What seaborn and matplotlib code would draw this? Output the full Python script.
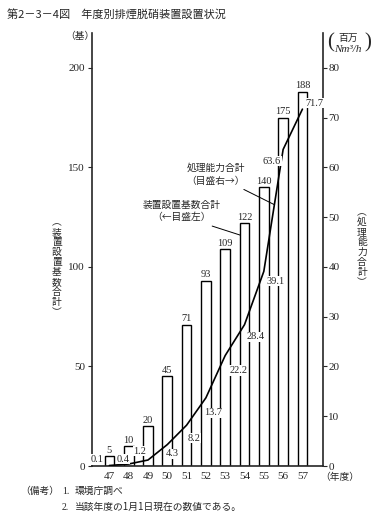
import numpy as np
import pandas as pd
import seaborn as sns
import matplotlib.pyplot as plt

# 年度別データ（昭和47～57年度）
years = ['47', '48', '49', '50', '51', '52', '53', '54', '55', '56', '57']
units_total = [5, 10, 20, 45, 71, 93, 109, 122, 140, 175, 188]          # 装置設置基数合計（基）
capacity_total = [0.1, 0.4, 1.2, 4.3, 8.2, 13.7, 22.2, 28.4, 39.1, 63.6, 71.7]  # 処理能力合計（百万Nm3/h）

df = pd.DataFrame({'year': years, 'units': units_total, 'capacity': capacity_total})
df['pos'] = np.arange(len(df))

# 折れ線ラベルの位置ずらし（ピクセル）
label_offsets = [(-12, 6), (-6, 5), (-8, 9), (5, -9), (7, -13), (7, -15),
                 (13, -15), (11, -12), (12, -10), (-11, -12), (12, 6)]

sns.set_style('white')
plt.rcParams['font.family'] = ['Liberation Serif', 'Noto Sans CJK JP', 'DejaVu Sans']
jp = ['Noto Sans CJK JP', 'DejaVu Sans']
W, H = 375, 524

fig = plt.figure(figsize=(W / 100, H / 100), dpi=100)
ax = fig.add_axes([92 / W, 1 - 466 / H, (322.7 - 92) / W, (466 - 33) / H])

sns.barplot(data=df, x='year', y='units', ax=ax, width=0.5, color='white',
            saturation=1, edgecolor='black', linewidth=1.0)
ax.bar_label(ax.containers[0], padding=1, fontsize=7.5)

ax2 = ax.twinx()
sns.lineplot(data=df, x='pos', y='capacity', ax=ax2, color='black', lw=1.2)
for i, (v, off) in enumerate(zip(capacity_total, label_offsets)):
    ax2.annotate(f'{v}', (i, v), xytext=off, textcoords='offset pixels',
                 ha='center', va='center', fontsize=7.5,
                 bbox=dict(boxstyle='square,pad=0.05', fc='white', ec='none'))

ax.set_xlim(-0.9, 11.05)
ax.set_ylim(0, 217.5)
ax2.set_ylim(0, 87)
ax.set_yticks([0, 50, 100, 150, 200])
ax2.set_yticks(range(0, 81, 10))
ax.set_xlabel('')
ax.set_ylabel('')
ax2.set_ylabel('')

for s in ['top', 'right']:
    ax.spines[s].set_visible(False)
for s in ['top', 'left', 'bottom']:
    ax2.spines[s].set_visible(False)
for s in ['left', 'bottom']:
    ax.spines[s].set_linewidth(1.2)
ax2.spines['right'].set_linewidth(1.2)
ax.tick_params(axis='x', length=0, pad=4, labelsize=8)
ax.tick_params(axis='y', length=3, width=0.8, pad=2, labelsize=8)
ax2.tick_params(axis='y', length=3, width=0.8, pad=1, labelsize=8)

# 注記
ax2.annotate('処理能力合計\n（目盛右→）', xy=(8.55, 52.5), xytext=(5.5, 58.6),
             ha='center', va='center', fontsize=7, family=jp, linespacing=1.3,
             arrowprops=dict(arrowstyle='-', lw=0.7, color='black', relpos=(0.85, 0.0),
                             shrinkA=1, shrinkB=0))
ax.annotate('装置設置基数合計\n（←目盛左）', xy=(6.77, 116), xytext=(3.72, 128),
            ha='center', va='center', fontsize=7, family=jp, linespacing=1.3,
            arrowprops=dict(arrowstyle='-', lw=0.7, color='black', relpos=(0.75, 0.0),
                            shrinkA=1, shrinkB=0))

# タイトル・軸ラベル
fig.text(7 / W, 1 - 15 / H, '第2－3－4図　年度別排煙脱硝装置設置状況', fontsize=8,
         family=jp, ha='left', va='center')
fig.text(80 / W, 1 - 36 / H, '（基）', fontsize=7, family=jp, ha='center', va='center')
fig.text(348 / W, 1 - 38 / H, '百万', fontsize=7, family=jp, ha='center', va='center')
fig.text(348 / W, 1 - 49 / H, 'Nm³/h', fontsize=8, style='italic', ha='center', va='center')
fig.text(331 / W, 1 - 43 / H, '(', fontsize=15, ha='center', va='center')
fig.text(368 / W, 1 - 43 / H, ')', fontsize=15, ha='center', va='center')
fig.text(57 / W, 1 - 267 / H, '\n'.join('︵装置設置基数合計︶'), fontsize=7, family=jp,
         ha='center', va='center', linespacing=1.0)
fig.text(362 / W, 1 - 247 / H, '\n'.join('︵処理能力合計︶'), fontsize=7, family=jp,
         ha='center', va='center', linespacing=1.0)
fig.text(340 / W, 1 - 477 / H, '（年度）', fontsize=7, family=jp, ha='center', va='center')

# 備考
fig.text(20 / W, 1 - 491 / H, '（備考）', fontsize=7, family=jp, ha='left', va='center')
fig.text(62 / W, 1 - 491 / H, '1.', fontsize=7, ha='left', va='center')
fig.text(75 / W, 1 - 491 / H, '環境庁調べ', fontsize=7, family=jp, ha='left', va='center')
fig.text(62 / W, 1 - 507 / H, '2.', fontsize=7, ha='left', va='center')
fig.text(75 / W, 1 - 507 / H, '当該年度の1月1日現在の数値である。', fontsize=7, family=jp,
         ha='left', va='center')

plt.savefig('out.png', dpi=100)
